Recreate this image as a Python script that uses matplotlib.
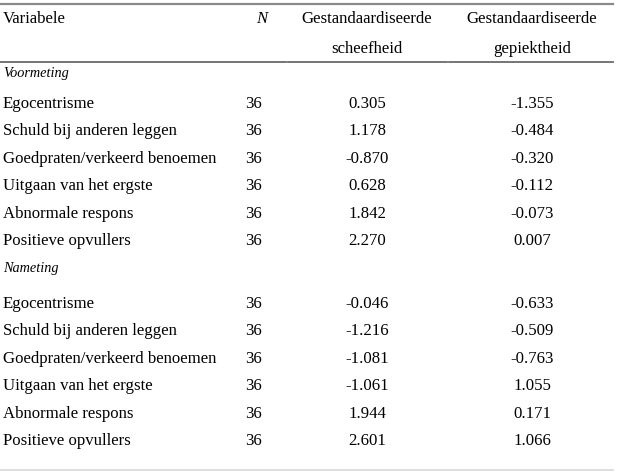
import matplotlib
matplotlib.use("Agg")
import matplotlib.pyplot as plt

plt.rcParams['font.family'] = ['Liberation Serif', 'DejaVu Serif']

headers = ["Variabele", "N", "Gestandaardiseerde\nscheefheid", "Gestandaardiseerde\ngepiektheid"]
groups = ["Voormeting", "Nameting"]
variables = ["Egocentrisme", "Schuld bij anderen leggen", "Goedpraten/verkeerd benoemen",
             "Uitgaan van het ergste", "Abnormale respons", "Positieve opvullers"]
n_values = [36, 36, 36, 36, 36, 36]
skew_pre = ["0.305", "1.178", "-0.870", "0.628", "1.842", "2.270"]
kurt_pre = ["-1.355", "-0.484", "-0.320", "-0.112", "-0.073", "0.007"]
skew_post = ["-0.046", "-1.216", "-1.081", "-1.061", "1.944", "2.601"]
kurt_post = ["-0.633", "-0.509", "-0.763", "1.055", "0.171", "1.066"]

W, H = 617, 473
fig = plt.figure(figsize=(W / 100, H / 100), dpi=100)
ax = fig.add_axes([0, 0, 1, 1])
ax.set_xlim(0, W)
ax.set_ylim(H, 0)
ax.axis("off")

fs = 12.1
col_x = [3, 254, 367, 532]

# rules
ax.plot([0, 613], [4, 4], color="#8a8a8a", lw=1.6)
for x0, x1 in [(0, 286), (288, 447), (449, 613)]:
    ax.plot([x0, x1], [62, 62], color="#6a6a6a", lw=1.3)
ax.plot([0, 613], [470, 470], color="#d8d8d8", lw=1.2)

# header
ax.text(col_x[0], 19, headers[0], fontsize=fs, va="center", ha="left")
ax.text(262, 19, headers[1], fontsize=fs, va="center", ha="center", style="italic")
for i in (2, 3):
    top, bottom = headers[i].split("\n")
    ax.text(col_x[i], 19, top, fontsize=fs, va="center", ha="center")
    ax.text(col_x[i], 49, bottom, fontsize=fs, va="center", ha="center")

group_y = [73, 268]
row_start = [104, 304]
step = 27.4
data = [(skew_pre, kurt_pre), (skew_post, kurt_post)]
for g, name in enumerate(groups):
    ax.text(col_x[0], group_y[g], name, fontsize=10.3, va="center", ha="left", style="italic")
    skew, kurt = data[g]
    for r, var in enumerate(variables):
        y = row_start[g] + r * step
        ax.text(col_x[0], y, var, fontsize=fs, va="center", ha="left")
        ax.text(col_x[1], y, str(n_values[r]), fontsize=fs, va="center", ha="center")
        ax.text(col_x[2], y, skew[r], fontsize=fs, va="center", ha="center")
        ax.text(col_x[3], y, kurt[r], fontsize=fs, va="center", ha="center")

fig.savefig("out.png", dpi=100)
